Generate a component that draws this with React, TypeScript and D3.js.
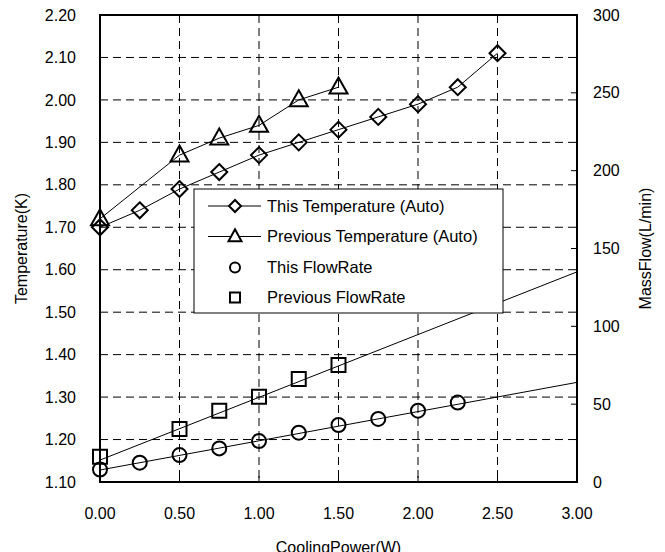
import React, { useEffect, useRef } from 'react';
import * as d3 from 'd3';

// CoolingPower(W) vs Temperature(K) (left) and MassFlow(L/min) (right)
const thisTempX = [0, 0.25, 0.5, 0.75, 1.0, 1.25, 1.5, 1.75, 2.0, 2.25, 2.5];
const thisTemp = [1.70, 1.74, 1.79, 1.83, 1.87, 1.90, 1.93, 1.96, 1.99, 2.03, 2.11];

const prevTempX = [0, 0.5, 0.75, 1.0, 1.25, 1.5];
const prevTemp = [1.72, 1.87, 1.91, 1.94, 2.00, 2.03];

const thisFlowX = [0, 0.25, 0.5, 0.75, 1.0, 1.25, 1.5, 1.75, 2.0, 2.25];
const thisFlow = [8, 12.4, 17.3, 21.6, 26.3, 31.7, 36.6, 40.5, 45.8, 51];

const prevFlowX = [0, 0.5, 0.75, 1.0, 1.25, 1.5];
const prevFlow = [16.3, 34, 45.8, 54.8, 66.2, 75.2];

// fitted lines read at both ends of the x range
const trendX = [0, 3];
const thisFlowTrend = [7.7, 64];
const prevFlowTrend = [14.1, 135];

const xTicks = [0, 0.5, 1.0, 1.5, 2.0, 2.5, 3.0];
const tempTicks = [1.1, 1.2, 1.3, 1.4, 1.5, 1.6, 1.7, 1.8, 1.9, 2.0, 2.1, 2.2];
const flowTicks = [0, 50, 100, 150, 200, 250, 300];

const legendLabels = [
  'This Temperature (Auto)',
  'Previous Temperature (Auto)',
  'This FlowRate',
  'Previous FlowRate',
];

const FONT = '"Liberation Sans", Arial, sans-serif';

export default function App() {
  const ref = useRef<SVGSVGElement>(null);

  useEffect(() => {
    const svg = d3.select(ref.current);
    svg.selectAll('*').remove();

    const left = 100, right = 577, top = 15, bottom = 482;

    const x = d3.scaleLinear().domain([0, 3]).range([left, right]);
    const yT = d3.scaleLinear().domain([1.1, 2.2]).range([bottom, top]);
    const yF = d3.scaleLinear().domain([0, 300]).range([bottom, top]);

    // grid
    const grid = svg.append('g')
      .attr('stroke', '#000')
      .attr('stroke-width', 1)
      .attr('stroke-dasharray', '8,5');
    grid.selectAll('.vg')
      .data(xTicks.filter(d => d > 0 && d < 3))
      .enter().append('line')
      .attr('x1', d => x(d)).attr('x2', d => x(d))
      .attr('y1', top).attr('y2', bottom);
    grid.selectAll('.hg')
      .data(tempTicks.filter(d => d > 1.15 && d < 2.15))
      .enter().append('line')
      .attr('x1', left).attr('x2', right)
      .attr('y1', d => yT(d)).attr('y2', d => yT(d));

    // axis ticks (inward)
    svg.append('g').selectAll('line')
      .data(xTicks.filter(d => d > 0 && d < 3))
      .enter().append('line')
      .attr('x1', d => x(d)).attr('x2', d => x(d))
      .attr('y1', bottom).attr('y2', bottom - 6)
      .attr('stroke', '#000');
    svg.append('g').selectAll('line')
      .data(flowTicks.filter(d => d > 0 && d < 300))
      .enter().append('line')
      .attr('x1', right).attr('x2', right - 6)
      .attr('y1', d => yF(d)).attr('y2', d => yF(d))
      .attr('stroke', '#000');

    // tick labels
    svg.append('g').selectAll('text')
      .data(xTicks)
      .enter().append('text')
      .attr('x', d => x(d)).attr('y', 519)
      .attr('text-anchor', 'middle')
      .style('font-family', FONT).style('font-size', '16px')
      .text(d => d3.format('.2f')(d));
    svg.append('g').selectAll('text')
      .data(tempTicks)
      .enter().append('text')
      .attr('x', 76).attr('y', d => yT(d)).attr('dy', '0.35em')
      .attr('text-anchor', 'end')
      .style('font-family', FONT).style('font-size', '16px')
      .text(d => d3.format('.2f')(d));
    svg.append('g').selectAll('text')
      .data(flowTicks)
      .enter().append('text')
      .attr('x', 593).attr('y', d => yF(d)).attr('dy', '0.35em')
      .attr('text-anchor', 'start')
      .style('font-family', FONT).style('font-size', '16px')
      .text(d => d);

    // axis titles
    svg.append('text')
      .attr('transform', `translate(21,${(top + bottom) / 2}) rotate(-90)`)
      .attr('dy', '0.35em').attr('text-anchor', 'middle')
      .style('font-family', FONT).style('font-size', '16px')
      .text('Temperature(K)');
    svg.append('text')
      .attr('transform', `translate(645,${(top + bottom) / 2}) rotate(-90)`)
      .attr('dy', '0.35em').attr('text-anchor', 'middle')
      .style('font-family', FONT).style('font-size', '16px')
      .text('MassFlow(L/min)');
    svg.append('text')
      .attr('x', (left + right) / 2).attr('y', 553)
      .attr('text-anchor', 'middle')
      .style('font-family', FONT).style('font-size', '16px')
      .text('CoolingPower(W)');

    // series lines
    const lineT = d3.line<number>();
    const drawLine = (xs: number[], ys: number[], ys2: (v: number) => number) => {
      const pts = xs.map((d, i) => [x(d), ys2(ys[i])] as [number, number]);
      svg.append('path')
        .attr('d', d3.line()(pts))
        .attr('fill', 'none').attr('stroke', '#000').attr('stroke-width', 1);
    };
    drawLine(thisTempX, thisTemp, yT);
    drawLine(prevTempX, prevTemp, yT);
    drawLine(trendX, thisFlowTrend, yF);
    drawLine(trendX, prevFlowTrend, yF);

    // markers
    const diamond = (s: number) => `M0,${-s}L${s},0L0,${s}L${-s},0Z`;
    const triangle = (w: number, h: number) => `M0,${-h * 0.6}L${w / 2},${h * 0.4}L${-w / 2},${h * 0.4}Z`;
    const square = (s: number) => `M${-s / 2},${-s / 2}h${s}v${s}h${-s}Z`;

    const markers = (xs: number[], ys: number[], ys2: (v: number) => number, shape: string | null) => {
      const g = svg.append('g');
      xs.forEach((d, i) => {
        if (shape === null) {
          g.append('circle')
            .attr('cx', x(d)).attr('cy', ys2(ys[i])).attr('r', 7)
            .attr('fill', 'none').attr('stroke', '#000').attr('stroke-width', 2);
        } else {
          g.append('path')
            .attr('transform', `translate(${x(d)},${ys2(ys[i])})`)
            .attr('d', shape)
            .attr('fill', 'none').attr('stroke', '#000').attr('stroke-width', 2);
        }
      });
    };
    markers(thisTempX, thisTemp, yT, diamond(8));
    markers(prevTempX, prevTemp, yT, triangle(18, 16));
    markers(thisFlowX, thisFlow, yF, null);
    markers(prevFlowX, prevFlow, yF, square(14));

    // frame
    svg.append('rect')
      .attr('x', left).attr('y', top)
      .attr('width', right - left).attr('height', bottom - top)
      .attr('fill', 'none').attr('stroke', '#000').attr('stroke-width', 2);

    // legend
    const legend = svg.append('g');
    legend.append('rect')
      .attr('x', 194).attr('y', 189).attr('width', 309).attr('height', 124)
      .attr('fill', '#fff').attr('stroke', '#000').attr('stroke-width', 1);
    const rowY = [206, 236.5, 267.5, 297.5];
    legendLabels.forEach((lab, i) => {
      const cy = rowY[i];
      if (i < 2) {
        legend.append('line')
          .attr('x1', 208).attr('x2', 261).attr('y1', cy).attr('y2', cy)
          .attr('stroke', '#000').attr('stroke-width', 1);
      }
      if (i === 2) {
        legend.append('circle').attr('cx', 235).attr('cy', cy).attr('r', 5)
          .attr('fill', 'none').attr('stroke', '#000').attr('stroke-width', 2);
      } else {
        const shp = i === 0 ? diamond(6) : i === 1 ? triangle(13, 12) : square(10);
        legend.append('path')
          .attr('transform', `translate(235,${cy})`)
          .attr('d', shp)
          .attr('fill', i < 2 ? '#fff' : 'none').attr('stroke', '#000').attr('stroke-width', 2);
      }
      legend.append('text')
        .attr('x', 267).attr('y', cy).attr('dy', '0.35em')
        .style('font-family', FONT).style('font-size', '16.5px')
        .text(lab);
    });
  }, []);

  return (
    <svg ref={ref} width={665} height={552}
      style={{ position: 'absolute', left: 0, top: 0, background: '#fff' }} />
  );
}
